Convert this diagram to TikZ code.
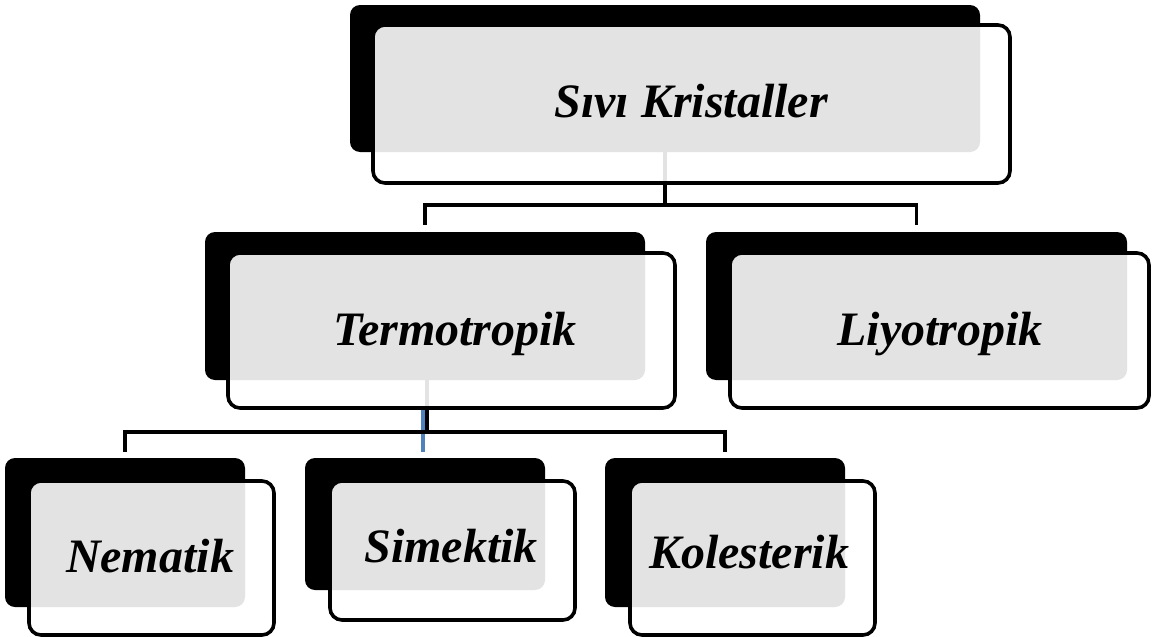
\documentclass[tikz,border=0pt]{standalone}
\usepackage{fontspec}
\setmainfont{Liberation Serif}
\usetikzlibrary{calc}
\definecolor{connblue}{HTML}{4F81BD}
\begin{document}
\begin{tikzpicture}[x=1pt,y=-1pt,
  shadowbox/.style={fill=black, draw=none, rounded corners=10pt, anchor=north west, inner sep=0pt, outer sep=0pt},
  frontbox/.style={draw=black, line width=3.6pt, fill=white, fill opacity=0.89, rounded corners=12pt, anchor=north west, inner sep=0pt, outer sep=0pt},
  conn/.style={line width=3.6pt, draw=black},
  bconn/.style={line width=3.6pt, draw=connblue},
  lbl/.style={font=\fontsize{48}{48}\selectfont\bfseries\itshape, anchor=base, inner sep=0pt}
]
\useasboundingbox (0,0) rectangle (1152,637);
% shadow boxes
\node[shadowbox, minimum width=630pt, minimum height=147pt] (topB) at (350,5) {};
\node[shadowbox, minimum width=440pt, minimum height=148pt] (termB) at (205,232) {};
\node[shadowbox, minimum width=421pt, minimum height=148pt] (liyoB) at (706,232) {};
\node[shadowbox, minimum width=240pt, minimum height=149pt] (nemB) at (5,458) {};
\node[shadowbox, minimum width=240pt, minimum height=132pt] (simB) at (305,458) {};
\node[shadowbox, minimum width=240pt, minimum height=149pt] (kolB) at (605,458) {};
% connectors (behind the front boxes)
\draw[conn] (topB.south) -- ++(0,53) coordinate (j1);
\draw[conn] (j1) -| ([yshift=7pt]termB.north);
\draw[conn] (j1) -| ([yshift=7pt]liyoB.north);
\draw[bconn] ([xshift=-2pt,yshift=-28pt]termB.south) -- ([xshift=-2pt,yshift=6pt]simB.north);
\draw[conn] ([xshift=2pt]termB.south) -- ++(0,52) coordinate (j2);
\draw[conn] (j2) -| ([yshift=6pt]nemB.north);
\draw[conn] (j2) -| ([yshift=6pt]kolB.north);
% front boxes
\node[frontbox, minimum width=637pt, minimum height=158pt] (topW) at (373,25) {};
\node[frontbox, minimum width=447pt, minimum height=155pt] (termW) at (228,253) {};
\node[frontbox, minimum width=419pt, minimum height=155pt] (liyoW) at (730,253) {};
\node[frontbox, minimum width=245pt, minimum height=154pt] (nemW) at (29,481) {};
\node[frontbox, minimum width=245pt, minimum height=139pt] (simW) at (330,481) {};
\node[frontbox, minimum width=245pt, minimum height=154pt] (kolW) at (630,481) {};
% labels
\node[lbl] (topT) at (691,117) {Sıvı Kristaller};
\node[lbl] (termT) at (455,345) {Termotropik};
\node[lbl] (liyoT) at (940,345) {Liyotropik};
\node[lbl] (nemT) at (150,572) {Nematik};
\node[lbl] (simT) at (451,562) {Simektik};
\node[lbl] (kolT) at (749,568) {Kolesterik};
\end{tikzpicture}
\end{document}
